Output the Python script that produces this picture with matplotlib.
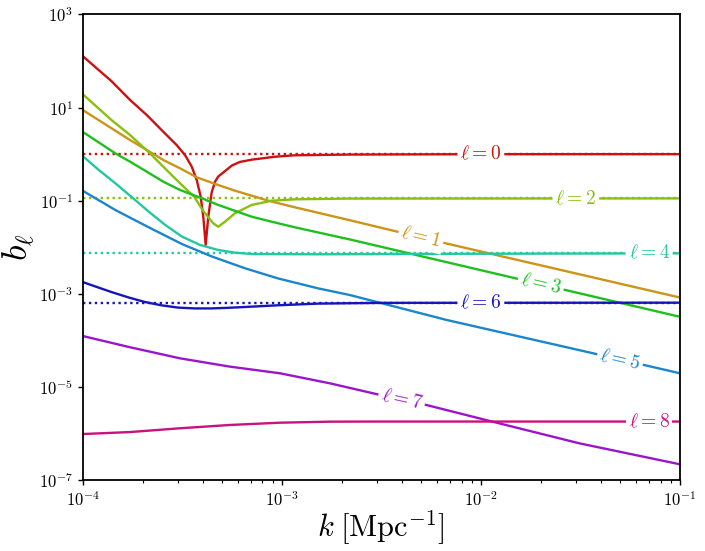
import numpy as np
import matplotlib
matplotlib.use("Agg")
import matplotlib.pyplot as plt

plt.rcParams["font.family"] = "serif"
plt.rcParams["font.serif"] = ["cmr10"]
plt.rcParams["mathtext.fontset"] = "cm"
plt.rcParams["axes.formatter.use_mathtext"] = True

# values (k in Mpc^-1, b_l dimensionless)
k0 = [1.0e-4, 1.396e-4, 1.730e-4, 2.099e-4, 2.541e-4, 2.965e-4, 3.266e-4, 3.532e-4,
      3.741e-4, 3.917e-4, 4.036e-4, 4.150e-4, 4.276e-4, 4.446e-4, 4.620e-4, 4.797e-4,
      5.62e-4, 6.166e-4, 7.063e-4, 9.247e-4, 1.164e-3, 2.198e-3, 1e-2, 1e-1]
b0 = [128, 37, 14.6, 6.93, 3.03, 1.57, 0.96, 0.537,
      0.279, 0.122, 0.0453, 0.0112, 0.0453, 0.150, 0.255, 0.33,
      0.57, 0.68, 0.76, 0.88, 0.944, 0.98, 0.998, 1.0]

k1 = [1.0e-4, 1.396e-4, 1.730e-4, 2.099e-4, 2.541e-4, 3.083e-4, 3.741e-4, 4.797e-4,
      5.821e-4, 7.063e-4, 8.551e-4, 1.164e-3, 2.198e-3, 6.73e-3, 1e-1]
b1 = [8.9, 3.6, 2.01, 1.23, 0.748, 0.497, 0.318, 0.217,
      0.164, 0.128, 0.100, 0.0721, 0.038, 0.012, 8.3e-4]

k2 = [1.0e-4, 1.396e-4, 1.730e-4, 2.178e-4, 2.541e-4, 3.083e-4, 3.631e-4, 4.036e-4,
      4.529e-4, 4.797e-4, 5.188e-4, 5.821e-4, 7.063e-4, 8.892e-4, 1.164e-3, 2.198e-3, 1e-1]
b2 = [19.5, 5.4, 2.58, 1.04, 0.537, 0.237, 0.122, 0.060,
      0.0327, 0.0276, 0.0354, 0.0536, 0.081, 0.100, 0.107, 0.111, 0.112]

k3 = [1.0e-4, 1.459e-4, 1.730e-4, 2.099e-4, 2.541e-4, 3.083e-4, 3.963e-4, 4.797e-4,
      7.063e-4, 8.892e-4, 1.164e-3, 2.198e-3, 1.514e-2, 1e-1]
b3 = [3.02, 1.04, 0.689, 0.42, 0.256, 0.170, 0.113, 0.081,
      0.0453, 0.0354, 0.0268, 0.0147, 2.12e-3, 3.2e-4]

k4 = [1.0e-4, 1.205e-4, 1.459e-4, 1.770e-4, 2.148e-4, 2.600e-4, 3.155e-4, 3.890e-4,
      4.797e-4, 5.821e-4, 7.063e-4, 1.52e-3, 5e-3, 1e-1]
b4 = [0.912, 0.457, 0.237, 0.118, 0.0581, 0.0301, 0.0169, 0.01117,
      8.73e-3, 7.64e-3, 7.16e-3, 7.05e-3, 7.2e-3, 7.4e-3]

k5 = [1.0e-4, 1.459e-4, 2.148e-4, 3.155e-4, 4.467e-4, 6.516e-4, 9.57e-4, 1.52e-3,
      2.198e-3, 6.73e-3, 3.66e-2, 1e-1]
b5 = [0.164, 0.0631, 0.0268, 0.0117, 6.3e-3, 3.55e-3, 2.14e-3, 1.31e-3,
      9.4e-4, 2.74e-4, 5.27e-5, 1.96e-5]

k6 = [1.0e-4, 1.151e-4, 1.396e-4, 1.690e-4, 2.051e-4, 2.483e-4, 3.013e-4, 3.656e-4,
      4.436e-4, 5.40e-4, 6.516e-4, 9.57e-4, 1.52e-3, 3.16e-3, 1e-1]
b6 = [1.79e-3, 1.45e-3, 1.09e-3, 8.41e-4, 6.67e-4, 5.66e-4, 5.05e-4, 4.85e-4,
      4.85e-4, 5.0e-4, 5.2e-4, 5.66e-4, 6.15e-4, 6.38e-4, 6.44e-4]

k7 = [1.0e-4, 1.73e-4, 3.08e-4, 5.50e-4, 9.79e-4, 1.75e-3, 2.99e-3, 5.33e-3, 1.20e-2,
      3.14e-2, 1e-1]
b7 = [1.24e-4, 7.1e-5, 4.11e-5, 2.72e-5, 1.96e-5, 1.19e-5, 7.0e-6, 4.08e-6, 1.70e-6,
      6.1e-7, 2.17e-7]

k8 = [1.0e-4, 1.73e-4, 3.08e-4, 5.50e-4, 9.79e-4, 1.75e-3, 3e-3, 1e-1]
b8 = [9.7e-7, 1.07e-6, 1.29e-6, 1.52e-6, 1.70e-6, 1.79e-6, 1.8e-6, 1.8e-6]

ells = [0, 1, 2, 3, 4, 5, 6, 7, 8]
ks = [k0, k1, k2, k3, k4, k5, k6, k7, k8]
bs = [b0, b1, b2, b3, b4, b5, b6, b7, b8]
colors = ["#cc1111", "#cc9418", "#88c010", "#1ec01e", "#22c8a0",
          "#1a86cc", "#1515bb", "#9a16c8", "#c8127e"]

# large-k limits of the even multipoles (dotted lines)
asym_ell = [0, 2, 4, 6]
asym_val = [1.0, 0.112, 7.4e-3, 6.44e-4]

# where the inline labels sit
label_k = [1e-2, 5e-3, 3e-2, 2e-2, 7e-2, 5e-2, 1e-2, 4e-3, 7e-2]

fig = plt.figure(figsize=(7.05, 5.51), dpi=100)
ax = fig.add_axes([0.1172, 0.1289, 0.8473, 0.8448])

for ell, val in zip(asym_ell, asym_val):
    ax.axhline(val, color=colors[ell], lw=1.7, linestyle=(0, (1, 1.5)), zorder=1)

for ell, k, b, c in zip(ells, ks, bs, colors):
    ax.plot(k, b, color=c, lw=1.7, zorder=2)

ax.set_xscale("log")
ax.set_yscale("log")
ax.set_xlim(1e-4, 1e-1)
ax.set_ylim(1e-7, 1e3)
ax.set_yticks([1e-7, 1e-5, 1e-3, 1e-1, 1e1, 1e3])
ax.yaxis.set_minor_locator(matplotlib.ticker.NullLocator())

# inline labels, rotated along the curve
for ell, k, b, c, kl in zip(ells, ks, bs, colors, label_k):
    lk = np.log10(k)
    lb = np.log10(b)
    yl = 10 ** np.interp(np.log10(kl), lk, lb)
    y2 = 10 ** np.interp(np.log10(kl) + 0.05, lk, lb)
    p1 = ax.transData.transform((kl, yl))
    p2 = ax.transData.transform((kl * 10 ** 0.05, y2))
    ang = np.degrees(np.arctan2(p2[1] - p1[1], p2[0] - p1[0]))
    ax.text(kl, yl, r"$\ell = %d$" % ell, color=c, fontsize=14, rotation=ang,
            ha="center", va="center", rotation_mode="anchor", zorder=5,
            bbox=dict(boxstyle="square,pad=0.15", fc="white", ec="none"))

for s in ax.spines.values():
    s.set_linewidth(1.3)
ax.tick_params(which="major", length=3.5, width=1, labelsize=12)
ax.tick_params(which="minor", length=2, width=0.8)

ax.set_xlabel(r"$k\;[\mathrm{Mpc}^{-1}]$", fontsize=22, labelpad=0)
ax.set_ylabel(r"$b_\ell$", fontsize=26, labelpad=1)

fig.savefig("out.png", dpi=100)
